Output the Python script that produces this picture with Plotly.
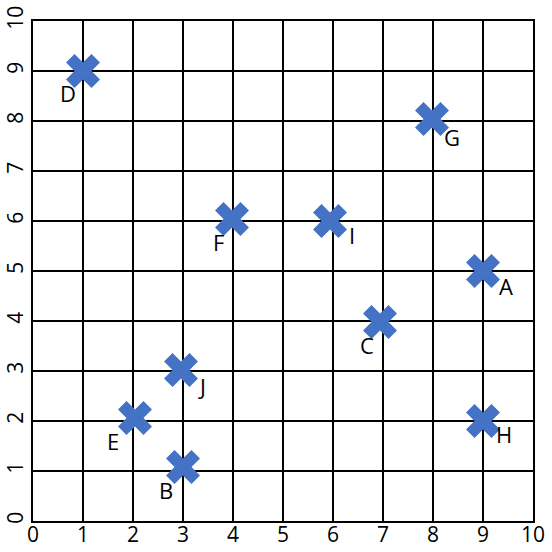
import plotly.graph_objects as go

labels = ["A", "B", "C", "D", "E", "F", "G", "H", "I", "J"]
xs = [9, 3, 6.94, 1, 2.04, 3.98, 7.98, 9, 5.94, 2.96]
ys = [5, 1.08, 3.98, 9, 2.06, 6.04, 8.04, 2, 6, 3.02]
label_dx = [23, -17, -13, -15, -22, -14, 20, 21, 22, 21]
label_dy = [-15, -23, -23, -22, -23, -23, -18, -13, -14, -16]
ticks = list(range(0, 11))

font_family = "Open Sans, Liberation Sans, sans-serif"

fig = go.Figure()
fig.add_trace(go.Scatter(
    x=xs, y=ys, mode="markers",
    marker=dict(symbol="x", size=30, color="#4472C4", line=dict(width=0)),
    showlegend=False, cliponaxis=False,
))
for lab, x, y, dx, dy in zip(labels, xs, ys, label_dx, label_dy):
    fig.add_annotation(x=x, y=y, text=lab, showarrow=False, xshift=dx, yshift=dy,
                       font=dict(family=font_family, size=22, color="black"))

axis_common = dict(
    range=[0, 10], tickvals=ticks, ticktext=[str(t) for t in ticks],
    showgrid=True, gridcolor="black", gridwidth=1.5,
    showline=True, linecolor="black", linewidth=1.5, mirror=True,
    zeroline=False, ticks="", automargin=False,
    tickfont=dict(family=font_family, size=21, color="black"),
)
fig.update_xaxes(**axis_common, ticklabelstandoff=-6)
fig.update_yaxes(**axis_common, tickangle=-90)
fig.update_layout(
    width=552, height=552,
    margin=dict(l=33, r=19, t=21, b=31),
    plot_bgcolor="white", paper_bgcolor="white",
)
fig.write_html("out.html", config={"displayModeBar": False},
               post_script="document.body.style.margin='0px';")
